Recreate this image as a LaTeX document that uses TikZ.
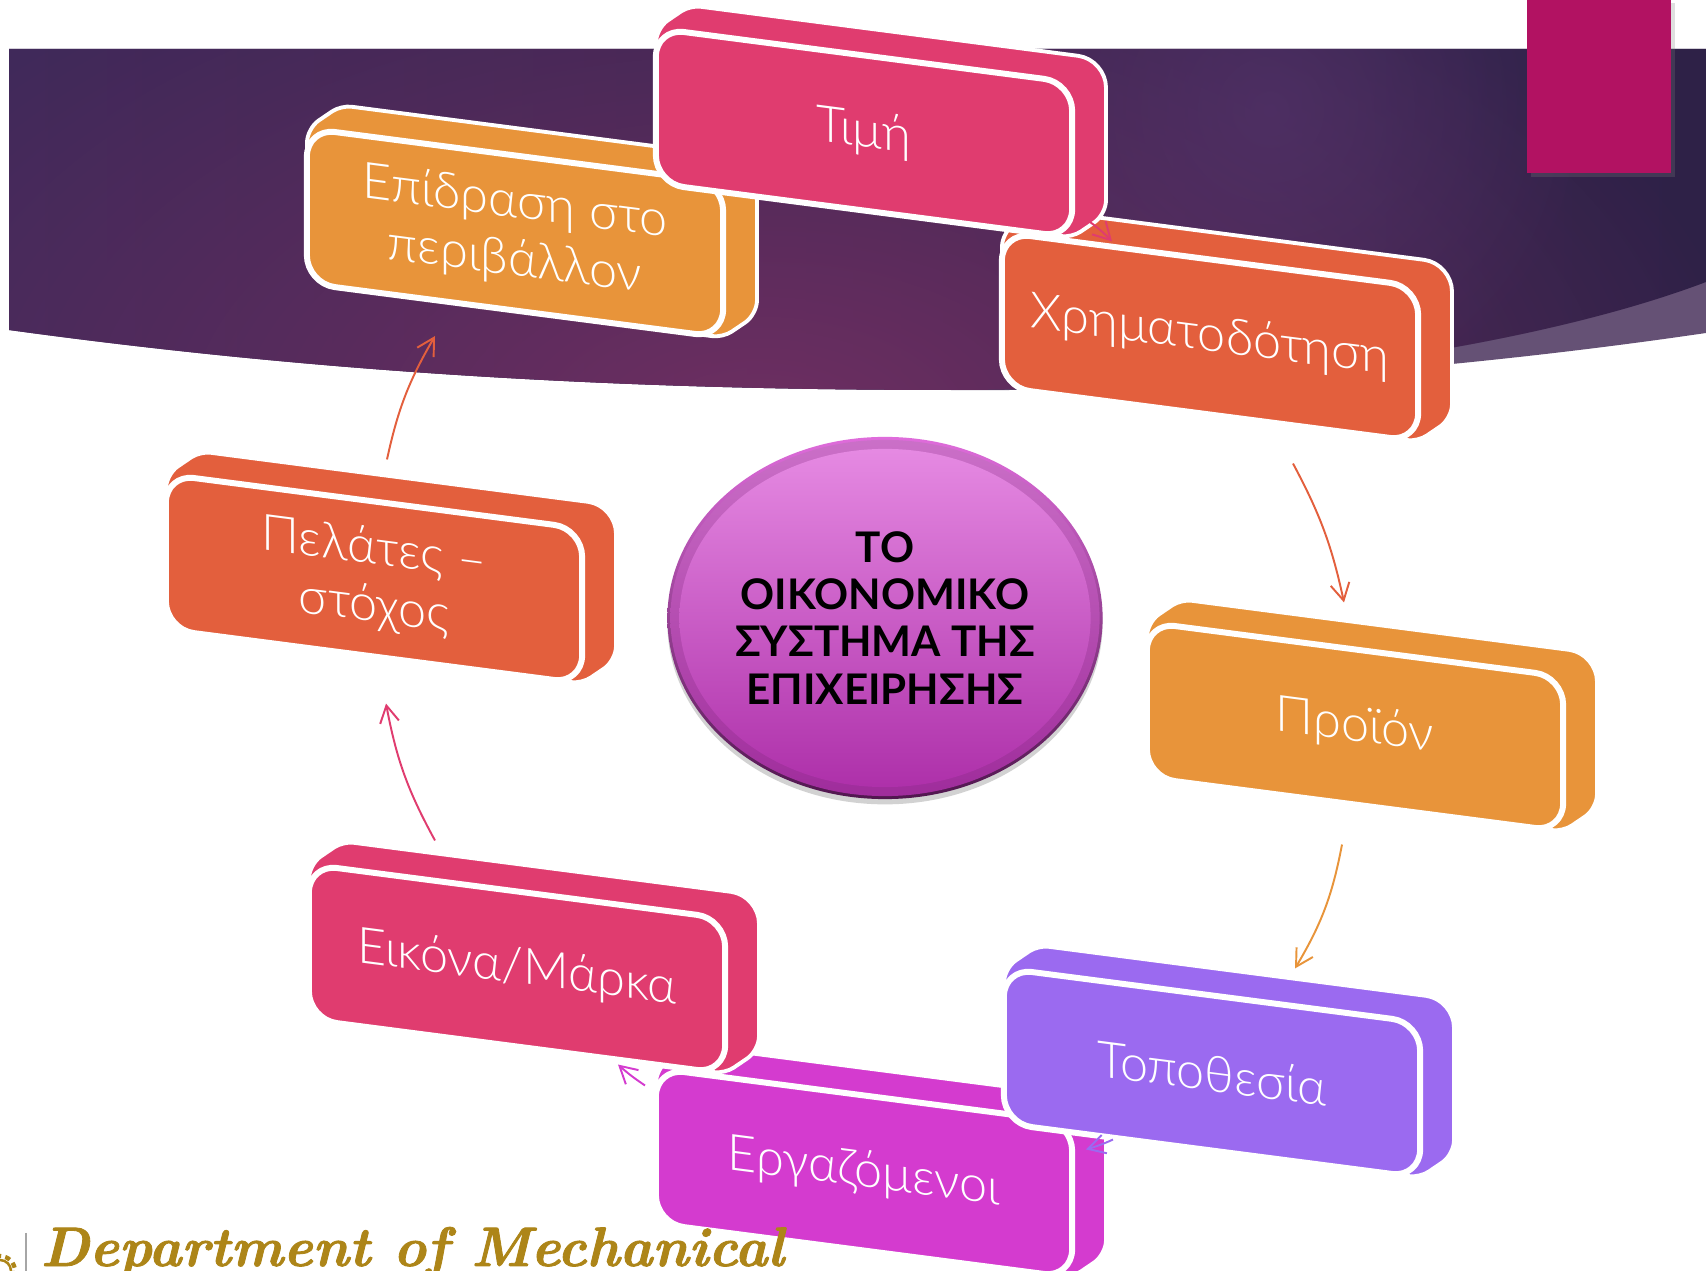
\documentclass[tikz,border=0pt]{standalone}
\usepackage{fontspec}
\setmainfont{Lato Light}
\newfontfamily\corefont{Lato}
\newfontfamily\logofont{Latin Modern Roman}
\usetikzlibrary{calc,arrows.meta,shadows,fadings,shapes.geometric}
\definecolor{blockpink}{HTML}{E03C6F}
\definecolor{blockorange}{HTML}{E8943A}
\definecolor{blockred}{HTML}{E35F3D}
\definecolor{blockviolet}{HTML}{9B6AF0}
\definecolor{blockmagenta}{HTML}{D43BCF}
\definecolor{bannerband}{HTML}{655175}
\definecolor{bannerglow}{HTML}{6F2F62}
\definecolor{bannerleft}{HTML}{40295A}
\definecolor{bannerright}{HTML}{2E2147}
\definecolor{bannerspot}{HTML}{56356E}
\definecolor{cornerpink}{HTML}{B21262}
\definecolor{logogold}{HTML}{AD8518}
\newcommand*\blockslant{-0.13}
\tikzfading[name=softglow, inner color=transparent!0, outer color=transparent!100]
\tikzset{
    blockside/.style = {draw=white, line width=1.1pt, line join=round},
    blockface/.style = {draw=white, line width=1.7pt, rounded corners=8pt,
                    minimum width=4.16cm, minimum height=1.55cm,
                    inner sep=0pt, outer sep=0pt, align=center, text=white,
                    font=\fontsize{14.3}{16.5}\selectfont, transform shape},
    ringarrow/.style = {-{Straight Barb[length=1.7mm,width=1.9mm]}, line width=0.55pt},
    coreoval/.style  = {ellipse, inner sep=0pt, outer sep=0pt},
}

\begin{document}
\begin{tikzpicture}[x=0.01cm,y=-0.01cm]
        \clip (0,0) rectangle (1706,1271);
        \fill[white] (0,0) rectangle (1706,1271);

        % Banner: pale band first, dark sweep on top
        \fill[bannerband] (9,49) -- (1706,49) -- (1706,333)
            .. controls (1400,378) and (1100,392) .. (950,390)
            .. controls (600,390) and (300,370) .. (9,330) -- cycle;
        \begin{scope}
            \clip (9,49) -- (1706,49) -- (1706,282)
                .. controls (1540,345) and (1250,390) .. (950,390)
                .. controls (600,390) and (300,370) .. (9,330) -- cycle;
            \shade[left color=bannerleft, right color=bannerright] (0,0) rectangle (1706,400);
            \fill[bannerglow, path fading=softglow] (760,430) ellipse (1000 and 560);
            \fill[bannerspot, opacity=0.6, path fading=softglow] (1270,110) circle (320);
        \end{scope}

        % Corner tab
        \fill[cornerpink, drop shadow={shadow xshift=1pt, shadow yshift=-1pt, opacity=0.25}]
            (1527,0) rectangle (1671,173);

        % Centre oval
        \node[coreoval, minimum width=4.35cm, minimum height=3.62cm,
            top color=blockmagenta!75!white, bottom color=black!62!blockmagenta,
            drop shadow={shadow xshift=0pt, shadow yshift=-1.5pt, opacity=0.35}] (corerim) at (885,618) {};
        \node[coreoval, minimum width=4.29cm, minimum height=3.56cm,
            top color=black!15!blockmagenta!70!white, middle color=blockmagenta!55!white,
            bottom color=black!25!blockmagenta] (coreband) at (corerim) {};
        \node[coreoval, minimum width=4.11cm, minimum height=3.38cm,
            top color=blockmagenta!60!white, bottom color=black!18!blockmagenta] (core) at (corerim) {};
        \node[inner sep=0pt, align=center, text=black,
            font=\corefont\bfseries\fontsize{12}{13.4}\selectfont] (corelabel) at (core)
            {ΤΟ\\ΟΙΚΟΝΟΜΙΚΟ\\ΣΥΣΤΗΜΑ ΤΗΣ\\ΕΠΙΧΕΙΡΗΣΗΣ};

        % Blocks in painting order: the later ones lie over the earlier ones
        \foreach \nm/\cx/\cy/\col/\txt in {
            impact/515/233/blockorange/{Επίδραση στο\\περιβάλλον},
            funding/1210/337/blockred/{Χρηματοδότηση},
            price/864/133/blockpink/{Τιμή},
            product/1355/727/blockorange/{Προϊόν},
            staff/864/1173/blockmagenta/{Εργαζόμενοι},
            place/1212/1073/blockviolet/{Τοποθεσία},
            brand/517/969/blockpink/{Εικόνα/Μάρκα},
            clients/374/579/blockred/{Πελάτες –\\στόχος}%
        } {
            \begin{scope}[shift={(\cx,\cy)}, yslant=\blockslant]
                \draw[blockside, fill=\col] (-208,0) [rounded corners=4pt] -- (-208,-77.5)
                    [rounded corners=3pt] -- (-174,-105)
                    [rounded corners=8pt] -- (242,-105)
                    [rounded corners=4pt] -- (242,50)
                    [rounded corners=3pt] -- (208,77.5)
                    [rounded corners=8pt] -- (-208,77.5) -- cycle;
                \node[blockface, fill=\col] (\nm) at (0,0) {\txt};
            \end{scope}
        }

        % Arrows round the ring
        \draw[ringarrow, blockpink]    ($(price.south)+(224,10)$)    to[bend left=5]  ($(funding.north)+(-98,-18)$);
        \draw[ringarrow, blockred]     ($(funding.south)+(83,49)$)   to[bend left=8]  ($(product.north)+(-11,-47)$);
        \draw[ringarrow, blockorange]  ($(product.south)+(-13,40)$)  to[bend left=10] ($(place.north)+(83,-27)$);
        \draw[ringarrow, blockviolet]  ($(place.south)+(-99,-11)$)   to[bend left=4]  ($(staff.north)+(222,54)$);
        \draw[ringarrow, blockmagenta] ($(staff.north)+(-219,-10)$)  to[bend left=4]  ($(brand.south)+(101,18)$);
        \draw[ringarrow, blockpink]    ($(brand.north)+(-82,-51)$)   to[bend left=9]  ($(clients.south)+(12,47)$);
        \draw[ringarrow, blockred]     ($(clients.north)+(13,-42)$)  to[bend left=9]  ($(impact.south)+(-80,25.5)$);

        % Logo line at the foot
        \draw[black!35, line width=0.4pt] (26,1233) -- (26,1271);
        \draw[logogold, line width=1.2pt, dash pattern=on 1.5pt off 1.2pt] (0,1271) circle (15);
        \draw[logogold, line width=0.7pt] (0,1271) circle (11);
        \node[anchor=base west, inner sep=0pt, text=logogold,
            font=\logofont\bfseries\itshape\addfontfeature{FakeBold=1.5}\fontsize{15.8}{16}\selectfont] (logotext) at (40,1266) {Department of Mechanical};
\end{tikzpicture}
\end{document}
